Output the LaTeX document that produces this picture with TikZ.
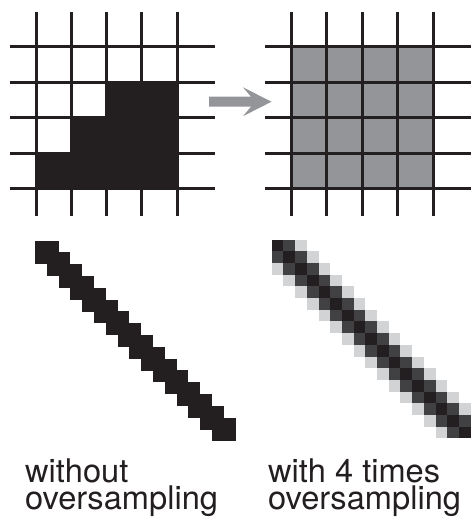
\documentclass[tikz,border=0pt]{standalone}
\usepackage{fontspec}
\setmainfont{TeX Gyre Heros}
\definecolor{ink}{HTML}{231F20}
\definecolor{pxm}{HTML}{414042}
\definecolor{pxl}{HTML}{D1D3D4}
\definecolor{fillgray}{HTML}{939598}
\begin{document}
\begin{tikzpicture}[x=1pt,y=-1pt,
  gridline/.style={draw=ink,line width=3pt},
  lbl/.style={anchor=north west,inner sep=0pt,align=left,text=ink,font=\fontsize{32.6}{27}\selectfont}]
\useasboundingbox (0,0) rectangle (471,523);
% ---- left grid ----
\fill[ink] (106.6,82) -- (177.2,82) -- (177.2,188.5) -- (36,188.5) -- (36,153) -- (71.3,153) -- (71.3,117.5) -- (106.6,117.5) -- cycle;
\foreach \x in {36,71.3,106.6,141.9,177.2} \draw[gridline] (\x,12) -- (\x,216);
\foreach \y in {46.5,82,117.5,153,188.5} \draw[gridline] (10,\y) -- (215,\y);
% ---- right grid ----
\fill[fillgray] (291,46.5) rectangle (433,188.5);
\foreach \x in {291,326.5,362,397.5,433} \draw[gridline] (\x,12) -- (\x,216);
\foreach \y in {46.5,82,117.5,153,188.5} \draw[gridline] (265,\y) -- (471,\y);
% ---- arrow ----
\fill[fillgray] (209,96.7) -- (251,96.7) -- (243,87.3) -- (271.5,101.7) -- (243,116.2) -- (251,106.7) -- (209,106.7) -- cycle;
% ---- left staircase line ----
\foreach \r in {0,...,16}{
  \pgfmathtruncatemacro\a{max(0,\r-1)}
  \pgfmathtruncatemacro\b{min(16,\r+1)+1}
  \fill[ink] (35+\a*11.8, 240.5+\r*11.8) rectangle (35+\b*11.8, 240.5+\r*11.8+12.1);
}
% ---- right antialiased line ----
\foreach \r in {0,...,16}{
  \foreach \d/\col in {-2/pxl,-1/pxm,0/ink,1/pxm,2/pxl}{
    \pgfmathtruncatemacro\c{\r+\d}
    \ifnum\c<0\relax\else\ifnum\c>16\relax\else
      \fill[\col] (271.7+\c*11.7, 239.5+\r*11.7) rectangle ++(11.75,11.75);
    \fi\fi
  }
}
% ---- labels ----
\node[lbl] (left label) at (25,458.5) {without\\oversampling};
\node[lbl] (right label) at (268,458.5) {with 4 times\\oversampling};
\end{tikzpicture}
\end{document}
